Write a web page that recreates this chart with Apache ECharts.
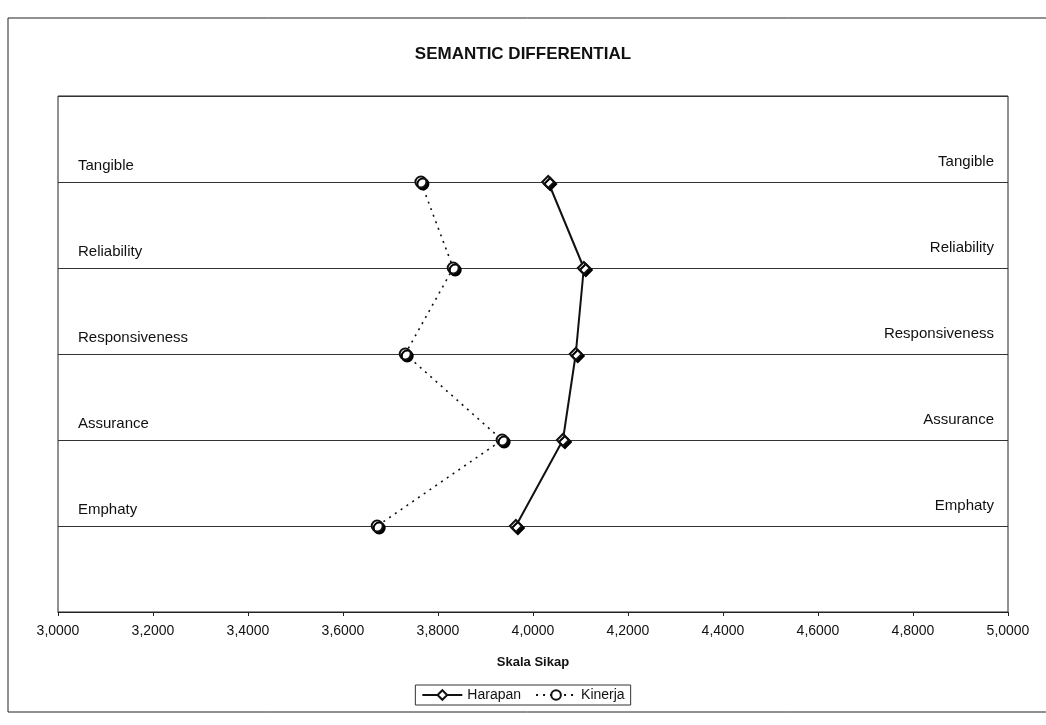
<!DOCTYPE html>
<html>
<head>
<meta charset="utf-8">
<title>Semantic Differential</title>
<script src="https://cdn.jsdelivr.net/npm/echarts@6/dist/echarts.min.js"></script>
<style>
  html, body { margin: 0; padding: 0; background: #fff; }
  #chart { width: 1046px; height: 725px; }
</style>
</head>
<body>
<div id="chart"></div>
<script>
// dimensions, top to bottom
const categories = ["Tangible", "Reliability", "Responsiveness", "Assurance", "Emphaty"];
const rowPos = [1, 2, 3, 4, 5];

const harapan = [4.032, 4.107, 4.090, 4.063, 3.964];
const kinerja = [3.764, 3.832, 3.731, 3.935, 3.672];

const xTicks = [3.0, 3.2, 3.4, 3.6, 3.8, 4.0, 4.2, 4.4, 4.6, 4.8, 5.0];

const font = "Liberation Sans, Arial, sans-serif";

function pairs(vals) {
  return vals.map((v, i) => [v, rowPos[i]]);
}

function fmtTick(v) {
  return v.toFixed(4).replace(".", ",");
}

const chart = echarts.init(document.getElementById("chart"));

const option = {
  backgroundColor: "#fff",
  animation: false,
  title: {
    text: "SEMANTIC DIFFERENTIAL",
    left: "center",
    top: 41,
    textStyle: { fontFamily: font, fontSize: 17, fontWeight: "bold", color: "#111" }
  },
  graphic: [
    {
      type: "rect",
      shape: { x: 8, y: 18, width: 1060, height: 694 },
      style: { fill: "none", stroke: "#222", lineWidth: 1 }
    }
  ],
  grid: {
    left: 58,
    right: 38,
    top: 96,
    bottom: 113,
    show: true,
    borderColor: "#222",
    borderWidth: 1
  },
  legend: {
    left: "center",
    top: 685,
    data: ["Harapan", "Kinerja"],
    borderColor: "#333",
    borderWidth: 1,
    padding: [3, 6],
    itemWidth: 40,
    itemHeight: 12,
    itemGap: 14,
    textStyle: { fontFamily: font, fontSize: 14, color: "#111" }
  },
  xAxis: {
    type: "value",
    min: 3,
    max: 5,
    interval: 0.2,
    name: "Skala Sikap",
    nameLocation: "middle",
    nameGap: 44,
    nameTextStyle: { fontFamily: font, fontSize: 13, fontWeight: "bold", color: "#111" },
    axisLine: { show: true, onZero: false, lineStyle: { color: "#222" } },
    axisTick: { show: true, length: 4, inside: false, lineStyle: { color: "#222" } },
    splitLine: { show: false },
    axisLabel: {
      margin: 12,
      fontFamily: font,
      fontSize: 14,
      color: "#111",
      formatter: (v) => (xTicks.some((t) => Math.abs(t - v) < 1e-6) ? fmtTick(v) : "")
    }
  },
  yAxis: [
    {
      type: "value",
      inverse: true,
      min: 0,
      max: 6,
      interval: 1,
      position: "left",
      axisLine: { show: false },
      axisTick: { show: false },
      splitLine: { show: true, lineStyle: { color: "#333", width: 1 } },
      axisLabel: {
        inside: true,
        margin: 20,
        align: "left",
        verticalAlign: "bottom",
        padding: [0, 0, 9, 0],
        fontFamily: font,
        fontSize: 15,
        color: "#111",
        formatter: (v) => categories[v - 1] || ""
      }
    },
    {
      type: "value",
      inverse: true,
      min: 0,
      max: 6,
      interval: 1,
      position: "right",
      axisLine: { show: false },
      axisTick: { show: false },
      splitLine: { show: false },
      axisLabel: {
        inside: true,
        margin: 14,
        align: "right",
        verticalAlign: "bottom",
        padding: [0, 0, 13, 0],
        fontFamily: font,
        fontSize: 15,
        color: "#111",
        formatter: (v) => categories[v - 1] || ""
      }
    }
  ],
  series: [
    {
      name: "Harapan",
      type: "line",
      data: pairs(harapan),
      symbol: "diamond",
      symbolSize: 12,
      lineStyle: { color: "#111", width: 2 },
      itemStyle: {
        color: "#fff",
        borderColor: "#111",
        borderWidth: 2,
        shadowColor: "#000",
        shadowOffsetX: 2,
        shadowOffsetY: 2
      }
    },
    {
      name: "Kinerja",
      type: "line",
      data: pairs(kinerja),
      symbol: "circle",
      symbolSize: 11,
      lineStyle: { color: "#111", width: 1.6, type: [2, 5] },
      itemStyle: {
        color: "#fff",
        borderColor: "#111",
        borderWidth: 2,
        shadowColor: "#000",
        shadowOffsetX: 2,
        shadowOffsetY: 2
      }
    }
  ]
};

chart.setOption(option);
</script>
</body>
</html>
